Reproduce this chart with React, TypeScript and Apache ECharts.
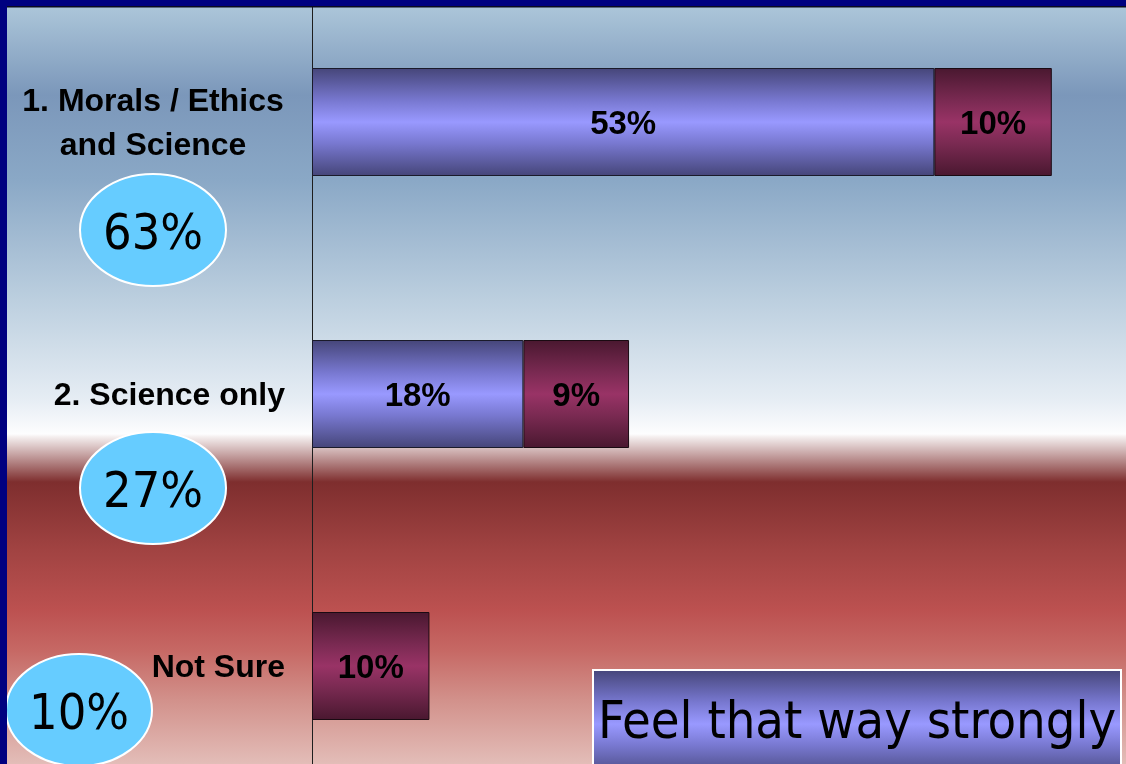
import React, { useEffect, useRef } from "react";
import * as echarts from "echarts";

const categories = ["1. Morals / Ethics\nand Science", "2. Science only", "Not Sure"];
const stronglyValues: (number | null)[] = [53, 18, null];
const notStronglyValues: number[] = [10, 9, 10];
const totalValues = categories.map((_, i) => (stronglyValues[i] ?? 0) + notStronglyValues[i]);
const legendLabel = "Feel that way strongly";

const BOLD_FONT = "'Liberation Sans', Arial, sans-serif";
const TAHOMA_FONT = "'DejaVu Sans Condensed', 'DejaVu Sans', sans-serif";

const ovals = [
  { cx: 153, cy: 230 },
  { cx: 153, cy: 488 },
  { cx: 79, cy: 710 },
];

export default function App() {
  const ref = useRef<HTMLDivElement>(null);
  useEffect(() => {
    if (!ref.current) return;
    const chart = echarts.init(ref.current, undefined, { renderer: "svg" });
    const H = 764;
    const bgStops = [
      [0, "#aac4d8"],
      [10, "#aac4d8"],
      [95, "#7b97ba"],
      [180, "#8aa8c6"],
      [300, "#bccfdf"],
      [400, "#e6edf4"],
      [434, "#fdfdfe"],
      [437, "#f4eeee"],
      [482, "#7e2e2e"],
      [550, "#a14342"],
      [610, "#bc5150"],
      [650, "#c66864"],
      [700, "#d2918b"],
      [764, "#e3bdb8"],
    ].map(([y, c]) => ({ offset: (y as number) / H, color: c as string }));

    const blueGrad = () =>
      new echarts.graphic.LinearGradient(0, 0, 0, 1, [
        { offset: 0, color: "#46467a" },
        { offset: 0.3, color: "#7878d0" },
        { offset: 0.5, color: "#9999ff" },
        { offset: 0.7, color: "#7878d0" },
        { offset: 1, color: "#46467a" },
      ]);
    const maroonGrad = () =>
      new echarts.graphic.LinearGradient(0, 0, 0, 1, [
        { offset: 0, color: "#4a1830" },
        { offset: 0.3, color: "#7a2a52" },
        { offset: 0.5, color: "#993366" },
        { offset: 0.7, color: "#7a2a52" },
        { offset: 1, color: "#4a1830" },
      ]);

    const labelStyle = {
      show: true,
      position: "inside",
      formatter: "{c}%",
      color: "#000",
      fontSize: 33,
      fontWeight: "bold",
      fontFamily: BOLD_FONT,
      textBorderWidth: 0,
    };

    const graphics: any[] = [
      {
        type: "rect",
        silent: true,
        z: -100,
        shape: { x: 0, y: 0, width: 1126, height: H },
        style: { fill: new echarts.graphic.LinearGradient(0, 0, 0, 1, bgStops) },
      },
      { type: "rect", silent: true, z: 100, shape: { x: 0, y: 0, width: 1126, height: 6 }, style: { fill: "#000080" } },
      { type: "rect", silent: true, z: 100, shape: { x: 0, y: 6, width: 1126, height: 1.5 }, style: { fill: "#0a0a20" } },
      { type: "rect", silent: true, z: 100, shape: { x: 0, y: 0, width: 7, height: H }, style: { fill: "#000080" } },
    ];
    ovals.forEach((o, i) => {
      graphics.push({
        type: "ellipse",
        z: 10,
        shape: { cx: o.cx, cy: o.cy, rx: 73, ry: 56 },
        style: { fill: "#66ccff", stroke: "#ffffff", lineWidth: 2 },
      });
      graphics.push({
        type: "text",
        z: 11,
        x: o.cx,
        y: o.cy + 2,
        style: {
          text: totalValues[i] + "%",
          fill: "#000",
          fontSize: 50,
          fontFamily: TAHOMA_FONT,
          align: "center",
          verticalAlign: "middle",
        },
      });
    });
    graphics.push({
      type: "rect",
      z: 10,
      shape: { x: 593, y: 670, width: 528, height: 108 },
      style: { fill: blueGrad(), stroke: "#ffffff", lineWidth: 2 },
    });
    graphics.push({
      type: "text",
      z: 11,
      x: 857,
      y: 720,
      style: {
        text: legendLabel,
        fill: "#000",
        fontSize: 52,
        fontFamily: TAHOMA_FONT,
        align: "center",
        verticalAlign: "middle",
      },
    });

    chart.setOption({
      animation: false,
      backgroundColor: "transparent",
      grid: { left: 312, top: -14, width: 822, height: 816, containLabel: false, outerBoundsMode: "none" },
      xAxis: { type: "value", min: 0, max: 70, show: false },
      yAxis: {
        type: "category",
        inverse: true,
        data: categories,
        axisLine: { show: true, lineStyle: { color: "#1e1e1e", width: 1 } },
        axisTick: { show: false },
        splitLine: { show: false },
        axisLabel: {
          margin: 27,
          formatter: (v: string) =>
            v.includes("\n") ? v.split("\n").map((l) => `{c|${l}}`).join("\n") : `{s|${v}}`,
          rich: {
            c: { width: 264, align: "center", fontSize: 32, fontWeight: "bold", fontFamily: BOLD_FONT, color: "#000", lineHeight: 44 },
            s: { fontSize: 32, fontWeight: "bold", fontFamily: BOLD_FONT, color: "#000", lineHeight: 44 },
          },
        },
      },
      series: [
        {
          type: "bar",
          name: legendLabel,
          stack: "total",
          barWidth: 108,
          data: stronglyValues.map((v) => (v == null ? "-" : v)),
          itemStyle: { color: blueGrad(), borderColor: "#1a1a2a", borderWidth: 1 },
          label: labelStyle,
        },
        {
          type: "bar",
          name: "Not strongly",
          stack: "total",
          barWidth: 108,
          data: notStronglyValues,
          itemStyle: { color: maroonGrad(), borderColor: "#1a0a12", borderWidth: 1 },
          label: labelStyle,
        },
      ],
      graphic: graphics,
    });
    return () => chart.dispose();
  }, []);
  return <div ref={ref} style={{ position: "fixed", left: 0, top: 0, width: 1126, height: 764 }} />;
}
